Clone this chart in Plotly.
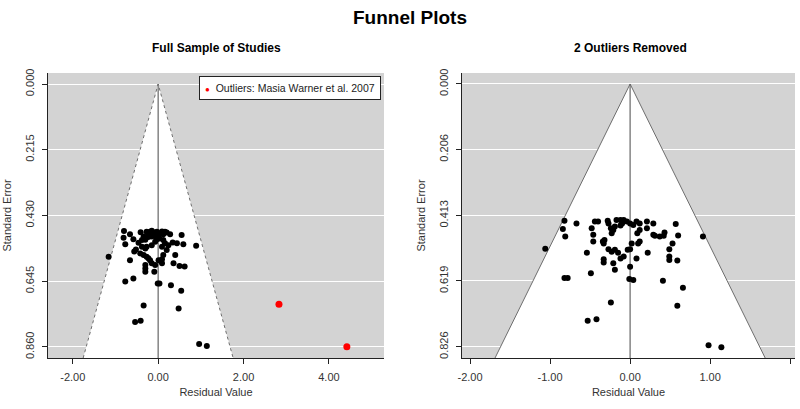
import plotly.graph_objects as go

# ---------------- data ----------------
full_resid = [-0.80, -0.66, -0.41, -0.81, -0.58, -0.77, -0.46, -0.52, -0.56, -0.66,
              -1.16, -0.30, -0.42, -0.34, -0.27, -0.23, -0.19, -0.15, -0.30, -0.30,
              -0.30, -0.09, -0.07, 0.01, 0.09, 0.09, 0.12, 0.20, 0.24, 0.34,
              0.44, 0.40, 0.55, 0.59, 0.89, 0.36, 0.50, 0.62,
              -0.11, -0.07, -0.15, -0.19, -0.27, -0.23, -0.03, 0.05, 0.12, 0.20,
              0.28, 0.03, 0.12, 0.16, 0.09, -0.07, -0.15, -0.27, -0.38, -0.38, -0.34,
              -0.15, -0.09, 0.01, -0.05, -0.19, 0.09, 0.16, -0.23, -0.30, -0.03,
              -0.77, -0.58, -0.01, 0.03, 0.30, 0.54, -0.34, 0.48, -0.54, -0.41, 0.96, 1.14]
full_se = [0.481, 0.491, 0.485, 0.503, 0.508, 0.524, 0.519, 0.541, 0.548, 0.576,
           0.565, 0.538, 0.554, 0.559, 0.565, 0.570, 0.576, 0.586, 0.592, 0.603,
           0.614, 0.614, 0.592, 0.576, 0.573, 0.586, 0.559, 0.543, 0.527, 0.518,
           0.521, 0.559, 0.494, 0.524, 0.529, 0.586, 0.595, 0.597,
           0.494, 0.488, 0.499, 0.483, 0.483, 0.492, 0.483, 0.488, 0.491, 0.486,
           0.491, 0.505, 0.510, 0.521, 0.532, 0.516, 0.527, 0.532, 0.532, 0.510, 0.499,
           0.480, 0.486, 0.494, 0.499, 0.489, 0.482, 0.483, 0.500, 0.509, 0.508,
           0.646, 0.636, 0.652, 0.652, 0.658, 0.676, 0.724, 0.734, 0.778, 0.774, 0.850, 0.857]

outlier_resid = [2.83, 4.42]
outlier_se = [0.720, 0.859]
outlier_label = "Outliers: Masia Warner et al. 2007"

trim_resid = [-0.82, -0.84, -0.81, -0.67, -1.06, -0.82, -0.78, -0.49, -0.54, -0.48,
              -0.46, -0.46, -0.44, -0.40, -0.34, -0.33, -0.32, -0.33, -0.33, -0.28,
              -0.27, -0.24, -0.23, -0.21, -0.19, -0.17, -0.12, -0.10, -0.08, -0.12,
              -0.27, -0.23, -0.19, -0.15, -0.21, -0.19, -0.12, -0.08, -0.03, 0.00,
              0.02, 0.00, -0.01, 0.04, 0.08, 0.10, 0.12, 0.09, 0.12, 0.04,
              0.00, -0.04, 0.08, 0.12, 0.21, 0.21, 0.29, 0.22, 0.29, 0.31,
              0.37, 0.42, 0.43, 0.53, 0.57, 0.60, 0.49, 0.49, 0.49, 0.59,
              0.41, 0.66, -0.24, 0.59, -0.53, -0.42, 0.91, 0.98, 1.14]
trim_se = [0.430, 0.456, 0.479, 0.438, 0.518, 0.610, 0.610, 0.595, 0.530, 0.453,
           0.474, 0.495, 0.432, 0.432, 0.495, 0.501, 0.490, 0.551, 0.561, 0.430,
           0.438, 0.453, 0.469, 0.459, 0.448, 0.427, 0.427, 0.438, 0.427, 0.445,
           0.519, 0.527, 0.521, 0.530, 0.563, 0.584, 0.548, 0.542, 0.521, 0.519,
           0.501, 0.574, 0.613, 0.616, 0.548, 0.501, 0.495, 0.469, 0.459, 0.443,
           0.438, 0.432, 0.432, 0.438, 0.432, 0.453, 0.438, 0.530, 0.474, 0.477,
           0.479, 0.477, 0.467, 0.501, 0.440, 0.476, 0.519, 0.542, 0.553, 0.555,
           0.618, 0.640, 0.687, 0.697, 0.744, 0.739, 0.479, 0.821, 0.827]

left_xticks = [-2.0, 0.0, 2.0, 4.0]
left_xlabels = ["-2.00", "0.00", "2.00", "4.00"]
left_yticks = [0.0, 0.215, 0.430, 0.645, 0.860]
left_ylabels = ["0.000", "0.215", "0.430", "0.645", "0.860"]
right_xticks = [-2.0, -1.0, 0.0, 1.0, 2.0]
right_xlabels = ["-2.00", "-1.00", "0.00", "1.00", "2.00"]
right_yticks = [0.0, 0.206, 0.413, 0.619, 0.826]
right_ylabels = ["0.000", "0.206", "0.413", "0.619", "0.826"]

left_xrange = [-2.58, 5.29]
left_yrange = [0.896, -0.036]
right_xrange = [-2.10, 2.06]
right_yrange = [0.861, -0.0345]

FONT = "Liberation Sans"
W, H = 800, 409
fig = go.Figure()


def add_panel(xa, ya, se_max, dash):
    z = 1.96
    fig.add_trace(go.Scatter(x=[-z * se_max, 0, z * se_max], y=[se_max, 0, se_max],
                             mode="lines", fill="toself", fillcolor="white",
                             line=dict(color="#6e6e6e", width=1, dash=dash),
                             xaxis=xa, yaxis=ya, showlegend=False, hoverinfo="skip"))
    fig.add_trace(go.Scatter(x=[0, 0], y=[0, se_max], mode="lines",
                             line=dict(color="#666666", width=1.2),
                             xaxis=xa, yaxis=ya, showlegend=False, hoverinfo="skip"))


add_panel("x", "y", left_yrange[0], "dot")
fig.add_trace(go.Scatter(x=full_resid, y=full_se, mode="markers",
                         marker=dict(color="black", size=6),
                         xaxis="x", yaxis="y", showlegend=False))
fig.add_trace(go.Scatter(x=outlier_resid, y=outlier_se, mode="markers",
                         marker=dict(color="#ff0000", size=7),
                         name=outlier_label, xaxis="x", yaxis="y", showlegend=False))

add_panel("x2", "y2", right_yrange[0], "solid")
fig.add_trace(go.Scatter(x=trim_resid, y=trim_se, mode="markers",
                         marker=dict(color="black", size=6),
                         xaxis="x2", yaxis="y2", showlegend=False))

ydom = [1 - 358 / H, 1 - 73 / H]
axis_common = dict(showline=True, linecolor="#222222", linewidth=1, ticks="outside",
                   ticklen=5, tickcolor="#222222", zeroline=False, automargin=False,
                   ticklabelstandoff=4,
                   tickfont=dict(family=FONT, size=11, color="#333333"))
xtitle = dict(text="Residual Value", font=dict(size=11, color="#333333"), standoff=6)
ytitle = dict(text="Standard Error", font=dict(size=11, color="#333333"), standoff=9)

fig.update_layout(
    width=W, height=H,
    margin=dict(l=0, r=0, t=0, b=0, autoexpand=False),
    paper_bgcolor="white", plot_bgcolor="#d3d3d3",
    font=dict(family=FONT, color="#222222"),
    showlegend=False,
    xaxis=dict(domain=[48 / W, 384 / W], range=left_xrange, tickvals=left_xticks,
               ticktext=left_xlabels, showgrid=False, anchor="y", title=xtitle,
               **axis_common),
    yaxis=dict(domain=ydom, range=left_yrange, tickvals=left_yticks, ticktext=left_ylabels,
               showgrid=True, gridcolor="white", gridwidth=1.2, tickangle=-90, anchor="x",
               title=ytitle, **axis_common),
    xaxis2=dict(domain=[462 / W, 795 / W], range=right_xrange, tickvals=right_xticks,
                ticktext=right_xlabels, showgrid=False, anchor="y2", title=xtitle,
                **axis_common),
    yaxis2=dict(domain=ydom, range=right_yrange, tickvals=right_yticks, ticktext=right_ylabels,
                showgrid=True, gridcolor="white", gridwidth=1.2, tickangle=-90, anchor="x2",
                title=ytitle, **axis_common),
    annotations=[
        dict(text="<b>Funnel Plots</b>", x=410 / W, y=1 - 18 / H, xref="paper", yref="paper",
             xanchor="center", yanchor="middle", showarrow=False,
             font=dict(family=FONT, size=19, color="black")),
        dict(text="<b>Full Sample of Studies</b>", x=216 / W, y=1 - 48 / H, xref="paper",
             yref="paper", xanchor="center", yanchor="middle", showarrow=False,
             font=dict(family=FONT, size=12, color="black")),
        dict(text="<b>2 Outliers Removed</b>", x=630 / W, y=1 - 48 / H, xref="paper",
             yref="paper", xanchor="center", yanchor="middle", showarrow=False,
             font=dict(family=FONT, size=12, color="black")),
        dict(text="<span style='color:#ff0000;font-size:8px'>●</span>  " + outlier_label,
             x=381 / W, y=1 - 76 / H, xref="paper", yref="paper", xanchor="right",
             yanchor="top", align="left", showarrow=False,
             bgcolor="white", bordercolor="#222222", borderwidth=1, borderpad=5,
             font=dict(family=FONT, size=10.5, color="#222222")),
    ],
)

fig.write_html("out.html", config={"displayModeBar": False},
               post_script="document.body.style.margin='0';")
